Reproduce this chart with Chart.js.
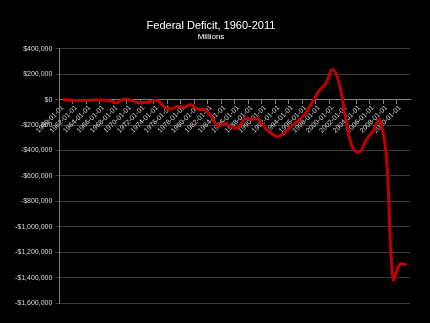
<!DOCTYPE html>
<html>
<head>
<meta charset="utf-8">
<script src="https://cdn.jsdelivr.net/npm/chart.js@4"></script>
<style>
  html, body { margin: 0; padding: 0; background: #000; }
  #wrap { width: 430px; height: 323px; }
</style>
</head>
<body>
<div id="wrap"><canvas id="deficit"></canvas></div>
<script>
// Déficit fédéral (millions de dollars), 1960-2011
const years = [];
for (let y = 1960; y <= 2011; y++) years.push(y + "-01-01");

const deficit = [
  301, -3335, -7146, -4756, -5915, -1411, -3698, -8643, -25161, 3242,
  -2842, -23033, -23373, -14908, -6135, -53242, -73732, -53659, -59185, -40726,
  -73830, -78968, -127977, -207802, -185367, -212308, -221227, -149730, -155178, -152639,
  -221036, -269238, -290321, -255051, -203186, -163952, -107431, -21884, 69270, 125610,
  236241, 128236, -157758, -377585, -412727, -318346, -248181, -160701, -458553, -1412688,
  -1294373, -1299595,
];

const yMin = -1600000;
const yMax = 400000;
const yStep = 200000;

const fmt = (v) => (v < 0 ? "-$" : "$") + Math.abs(v).toLocaleString("en-US");
const font = "Liberation Sans, Arial, sans-serif";

const ctx = document.getElementById("deficit");

new Chart(ctx, {
  type: "line",
  data: {
    labels: years,
    datasets: [
      {
        data: deficit,
        borderColor: "#c00000",
        borderWidth: 3,
        pointRadius: 0,
        tension: 0.4,
        fill: false,
      },
    ],
  },
  options: {
    responsive: true,
    maintainAspectRatio: false,
    animation: false,
    layout: { padding: { top: 12, right: 20, bottom: 20, left: 12 } },
    plugins: {
      legend: { display: false },
      tooltip: { enabled: false },
      title: {
        display: true,
        text: "Federal Deficit, 1960-2011",
        color: "#ffffff",
        font: { family: font, size: 11, weight: "normal" },
        padding: { top: 7, bottom: 0 },
      },
      subtitle: {
        display: true,
        text: "Millions",
        color: "#ffffff",
        font: { family: font, size: 8 },
        padding: { top: 0, bottom: 7 },
      },
    },
    scales: {
      x: {
        position: { y: 0 },
        offset: true,
        grid: {
          display: true,
          offset: true,
          drawOnChartArea: false,
          drawTicks: true,
          tickLength: 4,
          color: (c) => (c.index % 2 === 0 ? "#808080" : "rgba(0,0,0,0)"),
        },
        border: { color: "#808080" },
        ticks: {
          autoSkip: false,
          minRotation: 45,
          maxRotation: 45,
          padding: 0,
          color: "#d9d9d9",
          font: { family: font, size: 7 },
          callback: function (val, i) {
            return i % 2 === 0 ? this.getLabelForValue(val) : "";
          },
        },
      },
      y: {
        min: yMin,
        max: yMax,
        grid: { color: "#3a3a3a", tickLength: 4 },
        border: { color: "#808080" },
        ticks: {
          stepSize: yStep,
          color: "#d9d9d9",
          padding: 3,
          font: { family: font, size: 7 },
          callback: (v) => fmt(v),
        },
      },
    },
  },
});
</script>
</body>
</html>
